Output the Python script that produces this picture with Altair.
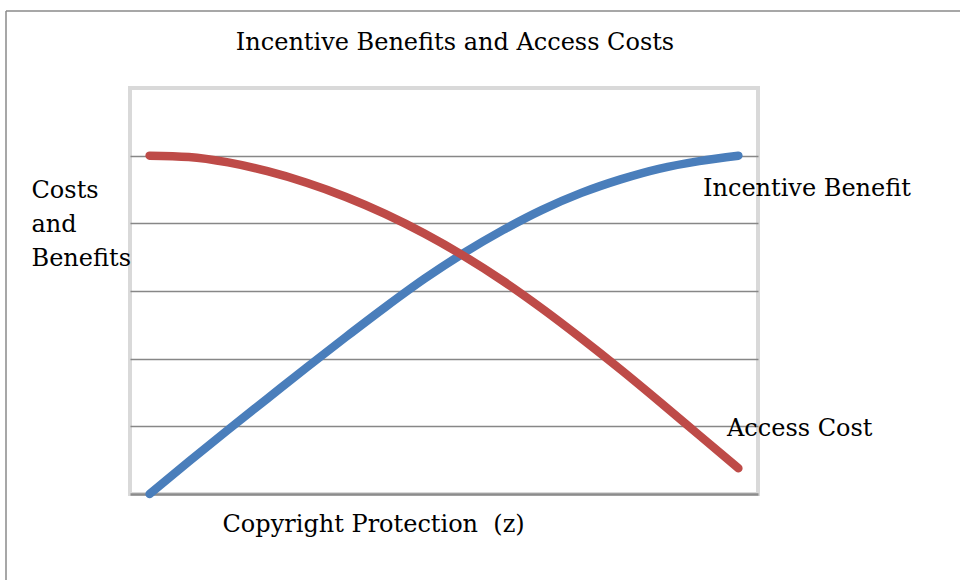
import altair as alt
import pandas as pd

# --- data ---
z_index = list(range(1, 17))
incentive_benefit = [0.00, 0.48, 0.95, 1.41, 1.87, 2.32, 2.76, 3.18,
                     3.56, 3.90, 4.20, 4.45, 4.65, 4.81, 4.92, 5.00]
access_cost = [5.00, 4.98, 4.90, 4.77, 4.60, 4.39, 4.14, 3.85,
               3.52, 3.15, 2.74, 2.30, 1.84, 1.36, 0.87, 0.38]
series_names = ["Incentive Benefit", "Access Cost"]
series_colors = ["#4a7ebb", "#be4b48"]
title_text = "Incentive Benefits and Access Costs"
y_title = ["Costs", "and", "Benefits"]
x_title = "Copyright Protection\u00a0 (z)"

rows = []
for i, z in enumerate(z_index):
    rows.append({"z": z, "series": series_names[0], "value": incentive_benefit[i]})
    rows.append({"z": z, "series": series_names[1], "value": access_cost[i]})
df = pd.DataFrame(rows)

W, H = 628, 406
PAD_L, PAD_T, PAD_R, PAD_B = 130, 88, 202, 86
FONT = "DejaVu Serif"

lines = alt.Chart(df).mark_line(strokeWidth=8.5, strokeCap="round", interpolate="monotone").encode(
    x=alt.X("z:O", scale=alt.Scale(padding=0.5),
            axis=alt.Axis(title=x_title, labels=False, ticks=False, domain=True,
                          domainColor="#8c8c8c", domainWidth=2.5,
                          titleFont=FONT, titleFontSize=24, titleFontWeight="normal",
                          titleColor="#000000", titleAlign="left", titleAnchor="start",
                          titleX=92, titleY=30, titleBaseline="middle")),
    y=alt.Y("value:Q", scale=alt.Scale(domain=[0, 6], nice=False),
            axis=alt.Axis(title=y_title, values=[1, 2, 3, 4, 5], labels=False, ticks=False,
                          domain=False, grid=True, gridColor="#878787", gridWidth=1.5,
                          titleFont=FONT, titleFontSize=24, titleFontWeight="normal",
                          titleColor="#000000", titleAngle=0, titleAlign="left",
                          titleBaseline="alphabetic", titleX=-99, titleY=109,
                          titleLineHeight=34)),
    color=alt.Color("series:N", scale=alt.Scale(domain=series_names, range=series_colors),
                    legend=None),
    detail="series:N",
)

lbl1 = alt.Chart(pd.DataFrame({"t": [series_names[0]]})).mark_text(
    font=FONT, fontSize=24, align="left", baseline="alphabetic", color="#000000"
).encode(text="t:N", x=alt.value(573), y=alt.value(108))

lbl2 = alt.Chart(pd.DataFrame({"t": [series_names[1]]})).mark_text(
    font=FONT, fontSize=24, align="left", baseline="alphabetic", color="#000000"
).encode(text="t:N", x=alt.value(597), y=alt.value(348))

title_mark = alt.Chart(pd.DataFrame({"t": [title_text]})).mark_text(
    font=FONT, fontSize=24, align="center", baseline="alphabetic", color="#000000"
).encode(text="t:N", x=alt.value(325), y=alt.value(-38))

frame_top = alt.Chart(pd.DataFrame({"a": [0]})).mark_rule(color="#8a8a8a", strokeWidth=1.5).encode(
    x=alt.value(-124), x2=alt.value(W + PAD_R + 10), y=alt.value(-77))
frame_left = alt.Chart(pd.DataFrame({"a": [0]})).mark_rule(color="#8a8a8a", strokeWidth=1.5).encode(
    x=alt.value(-124), y=alt.value(-77), y2=alt.value(H + PAD_B + 10))

chart = alt.layer(frame_top, frame_left, title_mark, lines, lbl1, lbl2).properties(
    width=W, height=H,
    autosize=alt.AutoSizeParams(type="none"),
    padding={"left": PAD_L, "top": PAD_T, "right": PAD_R, "bottom": PAD_B},
    background="#ffffff",
).configure_view(stroke="#d9d9d9", strokeWidth=4)

chart.save("out.html", embed_options={"renderer": "svg", "actions": False})
